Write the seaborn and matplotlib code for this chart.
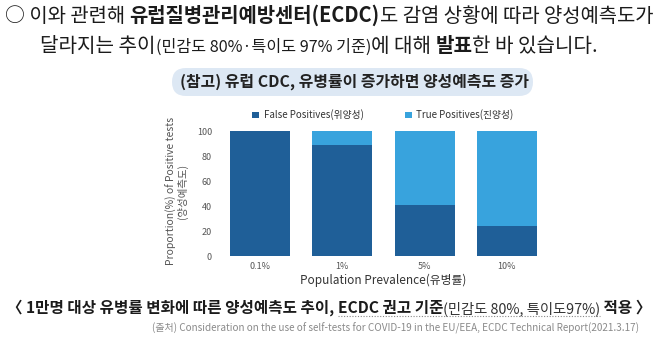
import matplotlib
matplotlib.use("Agg")
import matplotlib.pyplot as plt
import matplotlib.transforms as mtransforms
from matplotlib.patches import FancyBboxPatch, Patch
from matplotlib.lines import Line2D
import seaborn as sns
import pandas as pd

# ---- data ----
categories = ["0.1%", "1%", "5%", "10%"]
false_pos = [100, 89, 41, 24]
true_pos = [0, 11, 59, 76]
series_labels = ["False Positives(위양성)", "True Positives(진양성)"]
y_ticks = [0, 20, 40, 60, 80, 100]

W, H = 659, 354
FONT = ["Noto Sans CJK KR", "DejaVu Sans"]
C_FP = "#1f5f98"
C_TP = "#38a3dd"

sns.set_style("white")
plt.rcParams["font.family"] = FONT

fig = plt.figure(figsize=(W / 100, H / 100), dpi=100)
renderer = fig.canvas.get_renderer()


def px_axes(left, top, right, bottom):
    return [left / W, 1 - bottom / H, (right - left) / W, (bottom - top) / H]


def rich(pieces, x0, x1, ybase, base):
    def draw(scale):
        objs, x = [], x0
        for txt, rel, wt, col in pieces:
            t = fig.text(x / W, 1 - ybase / H, txt, fontsize=base * rel * scale,
                         fontweight=wt, color=col, ha="left", va="baseline",
                         family=FONT)
            bb = t.get_window_extent(renderer)
            objs.append((t, x, x + bb.width))
            x += bb.width
        return objs, x - x0
    objs, w = draw(1.0)
    for o in objs:
        o[0].remove()
    objs, w = draw((x1 - x0) / w)
    return objs


DARK = "#1b1b1b"
# ---- top text ----
rich([("○ 이와 관련해 ", 1, "normal", DARK),
      ("유럽질병관리예방센터(ECDC)", 1, "bold", DARK),
      ("도 감염 상황에 따라 양성예측도가", 1, "normal", DARK)],
     5, 655, 22, 13)
rich([("달라지는 추이", 1, "normal", DARK),
      ("(민감도 80%·특이도 97% 기준)", 0.8, "normal", DARK),
      ("에 대해 ", 1, "normal", DARK),
      ("발표", 1, "bold", DARK),
      ("한 바 있습니다.", 1, "normal", DARK)],
     40, 598, 52, 13)

# ---- pill title ----
pill = FancyBboxPatch((172, H - 96), 361, 28,
                      boxstyle="round,pad=0,rounding_size=14",
                      transform=mtransforms.IdentityTransform(),
                      facecolor="#dde8f4", edgecolor="none")
fig.patches.append(pill)
rich([("(참고) 유럽 CDC, 유병률이 증가하면 양성예측도 증가", 1, "bold", "#222222")],
     180, 527, 87, 10)

# ---- chart ----
ax = fig.add_axes(px_axes(219, 256 - 104 * 1.247, 548, 256))
df = pd.DataFrame({"cat": categories,
                   "total": [a + b for a, b in zip(false_pos, true_pos)],
                   "fp": false_pos})
sns.barplot(data=df, x="cat", y="total", color=C_TP, width=0.73,
            saturation=1, linewidth=0, ax=ax)
sns.barplot(data=df, x="cat", y="fp", color=C_FP, width=0.73,
            saturation=1, linewidth=0, ax=ax)
ax.set_xlim(-0.5, 3.5)
ax.set_ylim(0, 104)
ax.set_yticks(y_ticks)
sns.despine(ax=ax, left=True, bottom=True)
ax.tick_params(axis="both", length=0, labelsize=6.5, labelcolor="#555555")
ax.tick_params(axis="y", pad=5)
ax.tick_params(axis="x", pad=4)
ax.set_xlabel("Population Prevalence(유병률)", fontsize=8.5, color="#333333",
              labelpad=2)
ax.set_ylabel("Proportion(%) of Positive tests\n(양성예측도)", fontsize=7.5,
              color="#555555", labelpad=6, linespacing=1.0)
handles = [Patch(facecolor=C_FP, edgecolor="none"),
           Patch(facecolor=C_TP, edgecolor="none")]
ax.legend(handles, series_labels, loc="center", ncol=2, frameon=False,
          bbox_to_anchor=(383 / W, 1 - 115 / H),
          bbox_transform=fig.transFigure, fontsize=7, handlelength=0.7,
          handleheight=0.7, handletextpad=0.5, columnspacing=4.2,
          labelcolor="#333333")

# ---- caption ----
cap = rich([("〈 1만명 대상 유병률 변화에 따른 양성예측도 추이, ", 1, "bold", DARK),
            ("ECDC 권고 기준", 1, "bold", DARK),
            ("(민감도 80%, 특이도97%)", 0.92, "normal", "#333333"),
            (" 적용 〉", 1, "bold", DARK)],
           7, 652, 313, 12)
ux0, ux1 = cap[1][1], cap[2][2]
fig.lines.append(Line2D([ux0 / W, ux1 / W], [1 - 316 / H, 1 - 316 / H],
                        transform=fig.transFigure, color="#888888",
                        linestyle=(0, (1, 1.5)), linewidth=0.8))
rich([("(출처) Consideration on the use of self-tests for COVID-19 in the EU/EEA, ECDC Technical Report(2021.3.17)",
       1, "normal", "#8a8a8a")],
     152, 642, 331, 8)

fig.savefig("out.png", dpi=100)
